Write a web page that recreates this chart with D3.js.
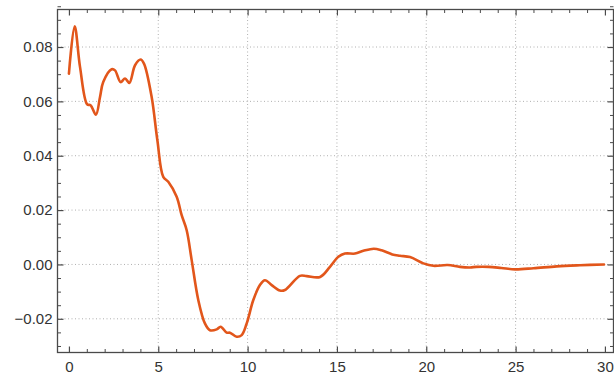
<!DOCTYPE html>
<html>
<head>
<meta charset="utf-8">
<script src="https://cdn.jsdelivr.net/npm/d3@7"></script>
<style>
  html, body { margin: 0; padding: 0; background: #fff; }
  svg { display: block; }
  .tick text { font-family: "Liberation Sans", Arial, sans-serif; }
</style>
</head>
<body>
<svg id="chart" width="614" height="374"></svg>
<script>
// Sampled response curve: time (t) and value (v)
const tValues = [0, 0.32, 0.62, 1.02, 1.21, 1.51, 1.74, 1.92, 2.39, 2.58, 2.89, 3.14, 3.38, 3.70, 4.01, 4.2, 4.63, 4.95, 5.28, 5.56, 6.03, 6.31, 6.59, 6.87, 7.24, 7.61, 7.89, 8.27, 8.49, 8.83, 9.01, 9.39, 9.67, 9.95, 10.32, 10.69, 10.97, 11.35, 11.81, 12.09, 12.93, 13.31, 14.06, 14.61, 15.08, 15.45, 16.01, 16.48, 17.06, 17.5, 18.1, 18.53, 19.09, 19.84, 20.4, 21.2, 21.89, 22.45, 22.8, 23.48, 24.2, 24.97, 26.0, 27.3, 28.6, 29.95];
const vValues = [0.0702, 0.0876, 0.0727, 0.0589, 0.0586, 0.0551, 0.0616, 0.0671, 0.0718, 0.0714, 0.0671, 0.0684, 0.0668, 0.0733, 0.0754, 0.0739, 0.0616, 0.0457, 0.0322, 0.0304, 0.0249, 0.0181, 0.0126, 0.0016, -0.0131, -0.0217, -0.0242, -0.0239, -0.0229, -0.0251, -0.0251, -0.0266, -0.026, -0.0217, -0.0131, -0.0076, -0.0058, -0.0076, -0.0096, -0.0094, -0.0042, -0.0043, -0.0046, -0.0009, 0.0028, 0.004, 0.004, 0.005, 0.0058, 0.0052, 0.0037, 0.0032, 0.0027, 0.0004, -0.0005, -0.0002, -0.0009, -0.0011, -0.0009, -0.0009, -0.0013, -0.0018, -0.0014, -0.0007, -0.0003, 0.0];

// Axis ticks
const xMajorTicks = [0, 5, 10, 15, 20, 25, 30];
const xGridTicks = [5, 10, 15, 20, 25];
const yMajorTicks = [-0.02, 0, 0.02, 0.04, 0.06, 0.08];

const svg = d3.select("#chart");
const plotLeft = 57.5, plotRight = 613.5, plotTop = 9.5, plotBottom = 352.5;

const x = d3.scaleLinear().domain([-0.64, 30.48]).range([plotLeft, plotRight]);
const y = d3.scaleLinear().domain([-0.0324, 0.0938]).range([plotBottom, plotTop]);

const xMinor = d3.range(0, 31, 1).filter(d => d % 5 !== 0);
const yMinor = d3.range(-0.03, 0.0951, 0.005).map(d => +d.toFixed(3))
  .filter(d => Math.abs(Math.round(d / 0.02) * 0.02 - d) > 1e-6);

const frameColor = "#4a4a4a";
const gridColor = "#b0b0b0";

// Grid lines
const grid = svg.append("g");
grid.selectAll("line.gx").data(xGridTicks).join("line")
  .attr("x1", d => x(d)).attr("x2", d => x(d))
  .attr("y1", plotTop).attr("y2", plotBottom)
  .attr("stroke", gridColor).attr("stroke-width", 1)
  .attr("stroke-dasharray", "1,2.5");
grid.selectAll("line.gy").data(yMajorTicks).join("line")
  .attr("x1", plotLeft).attr("x2", plotRight)
  .attr("y1", d => y(d)).attr("y2", d => y(d))
  .attr("stroke", gridColor).attr("stroke-width", 1)
  .attr("stroke-dasharray", "1,2.5");

// Frame axes with inward ticks
function frameAxis(axisFn, scale, transform, major, minor, labels, pad) {
  const gMinor = svg.append("g").attr("transform", transform)
    .call(axisFn(scale).tickValues(minor).tickSizeInner(-3.5).tickSizeOuter(0).tickFormat(""));
  gMinor.select(".domain").remove();
  gMinor.selectAll(".tick line").attr("stroke", frameColor);
  const g = svg.append("g").attr("transform", transform)
    .call(axisFn(scale).tickValues(major).tickSizeInner(-6).tickSizeOuter(0)
      .tickPadding(pad || 0)
      .tickFormat(labels ? labels : ""));
  g.select(".domain").remove();
  g.selectAll(".tick line").attr("stroke", frameColor).attr("stroke-width", 1.2);
  g.selectAll(".tick text").attr("fill", "#333").attr("font-size", 15);
  return g;
}

frameAxis(d3.axisBottom, x, `translate(0,${plotBottom})`, xMajorTicks, xMinor, d => d3.format("d")(d), 9);
frameAxis(d3.axisTop, x, `translate(0,${plotTop})`, xMajorTicks, xMinor, null);
frameAxis(d3.axisLeft, y, `translate(${plotLeft},0)`, yMajorTicks, yMinor,
  d => (d < 0 ? "\u2212" : "") + d3.format(".2f")(Math.abs(d)), 5);
frameAxis(d3.axisRight, y, `translate(${plotRight},0)`, yMajorTicks, yMinor, null);

// Frame border
svg.append("rect")
  .attr("x", plotLeft).attr("y", plotTop)
  .attr("width", plotRight - plotLeft).attr("height", plotBottom - plotTop)
  .attr("fill", "none").attr("stroke", frameColor).attr("stroke-width", 1.3);

// Curve
const points = tValues.map((t, i) => [t, vValues[i]]);
const line = d3.line()
  .x(d => x(d[0])).y(d => y(d[1]))
  .curve(d3.curveCatmullRom.alpha(0.5));

svg.append("path")
  .datum(points)
  .attr("d", line)
  .attr("fill", "none")
  .attr("stroke", "#e2561b")
  .attr("stroke-width", 2.6)
  .attr("stroke-linejoin", "round")
  .attr("stroke-linecap", "round");
</script>
</body>
</html>
